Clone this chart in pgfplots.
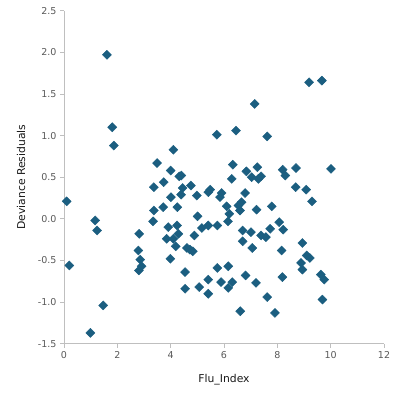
\documentclass[border=0pt]{standalone}
\usepackage{pgfplots}
\pgfplotsset{compat=1.18}
\usepackage{fontspec}
\setmainfont{DejaVu Sans}
\definecolor{mk}{RGB}{27,94,128}
\definecolor{axgray}{RGB}{191,191,191}
\definecolor{tickgray}{RGB}{89,89,89}
\begin{document}
\begin{tikzpicture}
\begin{axis}[
  scale only axis,
  width=320bp, height=333bp,
  xmin=0, xmax=12, ymin=-1.5, ymax=2.5,
  xtick={0,2,...,12},
  ytick={-1.5,-1,...,2.5},
  yticklabel style={/pgf/number format/fixed,/pgf/number format/fixed zerofill,/pgf/number format/precision=1},
  /pgf/number format/assume math mode=true,
  axis lines=left,
  axis line style={axgray, line width=1bp, -},
  tick align=outside,
  major tick length=4bp,
  tick style={axgray, line width=0.8bp},
  ticklabel style={font=\fontsize{9.5bp}{11bp}\selectfont, text=tickgray},
  every axis x label/.style={at={(rel axis cs:0.5,0)}, yshift=-35.5bp, anchor=center},
  every axis y label/.style={at={(rel axis cs:0,0.5)}, xshift=-43bp, rotate=90, anchor=center},
  label style={font=\fontsize{10.8bp}{13bp}\selectfont, text=black!90},
  xlabel={Flu\_Index},
  ylabel={Deviance Residuals},
  clip=false,
]
\addplot[only marks, mark=square*, mark size=3.2bp, mark options={rotate=45, fill=mk, draw=mk}] table {
x y
0.10 0.21
0.20 -0.56
0.99 -1.37
1.17 -0.02
1.24 -0.14
1.47 -1.04
1.61 1.97
1.81 1.10
1.87 0.88
2.82 -0.18
2.79 -0.38
2.86 -0.49
2.91 -0.57
2.81 -0.62
3.34 -0.03
3.37 0.10
3.37 0.38
3.49 0.67
3.72 0.14
3.74 0.44
3.85 -0.24
3.91 -0.10
3.99 -0.48
4.00 0.58
4.01 0.26
4.10 0.83
4.10 -0.24
4.19 -0.33
4.24 -0.08
4.25 0.14
4.29 -0.18
4.32 0.51
4.40 0.52
4.39 0.29
4.45 0.37
4.54 -0.64
4.54 -0.84
4.61 -0.35
4.72 -0.37
4.76 0.40
4.83 -0.39
4.89 -0.20
4.98 0.28
5.01 0.03
5.07 -0.82
5.17 -0.11
5.41 -0.08
5.41 0.32
5.48 0.35
5.41 -0.73
5.41 -0.90
5.73 1.01
5.75 -0.08
5.75 -0.59
5.85 0.26
5.91 0.31
5.89 -0.76
6.10 0.15
6.15 -0.03
6.16 -0.57
6.16 -0.83
6.20 0.06
6.29 0.48
6.31 -0.76
6.33 0.65
6.45 1.06
6.54 0.16
6.60 0.10
6.61 -1.11
6.66 0.20
6.70 -0.14
6.70 -0.27
6.79 0.31
6.81 -0.68
6.84 0.57
7.01 -0.16
7.04 0.50
7.06 -0.35
7.15 1.38
7.20 -0.77
7.22 0.11
7.25 0.62
7.29 0.48
7.39 0.51
7.39 -0.20
7.57 -0.22
7.62 0.99
7.62 -0.94
7.73 -0.12
7.79 0.15
7.91 -1.13
8.07 -0.04
8.16 -0.38
8.19 -0.70
8.20 0.59
8.22 -0.13
8.30 0.52
8.69 0.38
8.70 0.61
8.89 -0.53
8.94 -0.29
8.94 -0.61
9.08 0.35
9.10 -0.44
9.19 1.64
9.22 -0.47
9.30 0.21
9.63 -0.67
9.67 1.66
9.69 -0.97
9.76 -0.73
10.01 0.60
};
\end{axis}
\path ([xshift=-64bp,yshift=-51.5bp]current axis.south west) rectangle ([xshift=31bp,yshift=10.7bp]current axis.north east);
\end{tikzpicture}
\end{document}
